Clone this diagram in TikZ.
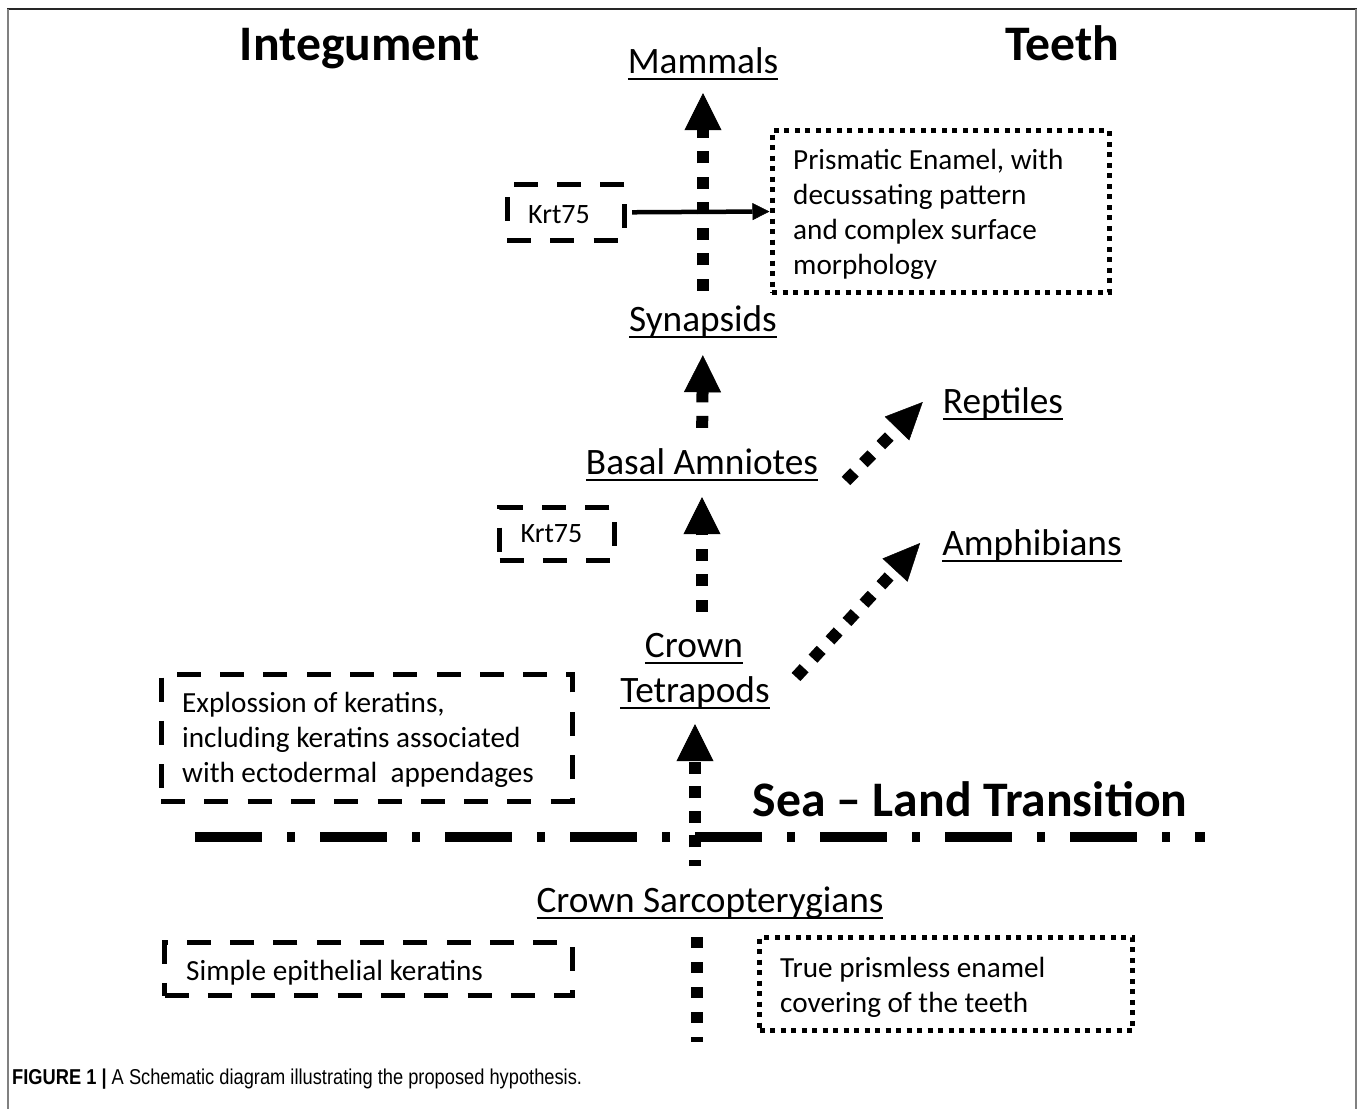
\documentclass[tikz,border=0pt]{standalone}
\usepackage{fontspec}
\setmainfont{Carlito}
\newfontfamily\capfont{Liberation Sans}[FakeStretch=0.85]
\usetikzlibrary{arrows.meta}
\newsavebox\ulbox
\newcommand{\myul}[1]{\sbox\ulbox{#1}\rlap{\rule[-6.5pt]{\wd\ulbox}{2pt}}\usebox\ulbox}
\begin{document}
\begin{tikzpicture}[x=1pt,y=-1pt,
  lbl/.style={font=\fontsize{37.3}{44}\selectfont, inner sep=0pt, text height=27pt, text depth=8pt, anchor=base},
  ttl/.style={font=\fontsize{49.7}{58}\selectfont\bfseries, inner sep=0pt, anchor=base},
  btxt/.style={font=\fontsize{29.2}{35}\selectfont, inner sep=0pt, anchor=base west},
  ktxt/.style={font=\fontsize{28}{34}\selectfont, inner sep=0pt, anchor=base},
  dashbox/.style={draw, line width=5pt, dash pattern=on 24pt off 19.3pt, inner sep=0pt},
  dotbox/.style={draw, line width=5pt, dash pattern=on 5pt off 5.5pt, inner sep=0pt},
  bigarrow/.style={line width=12pt, dash pattern=on 12pt off 13.5pt,
     -{Triangle[length=37pt,width=37pt,line width=0.5pt]}},
  diagarrow/.style={line width=12pt, dash pattern=on 12pt off 13pt,
     -{Triangle[length=37pt,width=34pt,line width=0.5pt]}},
  thinarrow/.style={line width=4.5pt, -{Triangle[length=17pt,width=17pt,line width=0.5pt]}},
  seadash/.style={line width=10pt, dash pattern=on 67pt off 25pt on 8pt off 25pt}
]
\useasboundingbox (0,0) rectangle (1357,1109);
\fill[white] (0,0) rectangle (1357,1109);
% frame
\draw[black!85, line width=2pt] (7,9) -- (1357,9);
\draw[black!50, line width=2pt] (7.5,9) -- (7.5,1109);
\draw[black!50, line width=2pt] (1355.5,9) -- (1355.5,1109);

% titles
\node[ttl] (integ) at (360,60) {Integument};
\node[ttl] (teeth) at (1062,60) {Teeth};
\node[ttl] (sea) at (970,816) {Sea – Land Transition};

% taxa
\node[lbl] (mam) at (703,73) {\myul{Mammals}};
\node[lbl] (syn) at (703,331) {\myul{Synapsids}};
\node[lbl] (bas) at (702,474) {\myul{Basal Amniotes}};
\node[lbl] (rep) at (1003,413) {\myul{Reptiles}};
\node[lbl] (amp) at (1032,555) {\myul{Amphibians}};
\node[lbl] (crown) at (694,657) {\myul{Crown}};
\node[lbl] (tetra) at (695,702) {\myul{Tetrapods}};
\node[lbl] (sarc) at (710,912) {\myul{Crown Sarcopterygians}};

% boxes
\node[dashbox, minimum width=117.5pt, minimum height=55.5pt] (k1) at (565.8,212.3) {};
\node[ktxt] (k1t) at (559,223) {Krt75};
\node[dashbox, minimum width=115pt, minimum height=53pt] (k2) at (557,534) {};
\node[ktxt] (k2t) at (551.5,542) {Krt75};
\node[dashbox, minimum width=411pt, minimum height=127pt] (expl) at (366.5,737.5) {};
\node[btxt] (e1) at (182,712) {Explossion of keratins,};
\node[btxt] (e2) at (182,747) {including keratins associated};
\node[btxt] (e3) at (182,782) {with ectodermal\ \ appendages};
\node[dashbox, minimum width=408pt, minimum height=53pt] (simple) at (368.5,969) {};
\node[btxt] (s1) at (186,980) {Simple epithelial keratins};
\node[dotbox, minimum width=337pt, minimum height=162pt] (prism) at (940.5,211.5) {};
\node[btxt] (p1) at (793,169) {Prismatic Enamel, with};
\node[btxt] (p2) at (793,204) {decussating pattern};
\node[btxt] (p3) at (793,239) {and complex surface};
\node[btxt] (p4) at (793,274) {morphology};
\node[dotbox, minimum width=373pt, minimum height=93pt] (true) at (946,984) {};
\node[btxt] (t1) at (780,977) {True prismless enamel};
\node[btxt] (t2) at (780,1012) {covering of the teeth};

% sea-land line
\coordinate (seaL) at (195,837);
\coordinate (seaR) at (1205,837);
\draw[seadash] (seaL) -- (seaR);

% vertical arrows
\draw[bigarrow, shorten <=13pt, shorten >=12pt] (syn.north) -- (mam.south);
\draw[bigarrow, shorten <=19pt, shorten >=16pt] (bas.north) -- (syn.south);
\draw[bigarrow, shorten <=18pt, shorten >=15pt] (bas.south |- crown.north) -- (bas.south);
\draw[bigarrow, dash pattern=on 12pt off 12.5pt, dash phase=6pt, shorten <=19pt, shorten >=14pt] (tetra.south |- sarc.north) -- (tetra.south);
\coordinate (sarcbot) at (697,1042);
\draw[line width=12pt, dash pattern=on 11pt off 14pt, shorten <=17pt] (sarcbot |- sarc.south) -- (sarcbot);

% diagonal arrows
\coordinate (repS) at (846,481);
\draw[diagarrow] (repS) -- ([shift={(-20,-1.5)}]rep.west);
\coordinate (ampS) at (796,677);
\draw[diagarrow] (ampS) -- ([shift={(-22,-2.5)}]amp.west);

% Krt75 -> prismatic
\draw[thinarrow, shorten <=5pt] (k1.east) -- (prism.west);

% caption
\node[inner sep=0pt, anchor=base west, font=\capfont\fontsize{21.5}{26}\selectfont] (cap) at (12,1084)
  {\textbf{FIGURE 1 |} A Schematic diagram illustrating the proposed hypothesis.};
\end{tikzpicture}
\end{document}
